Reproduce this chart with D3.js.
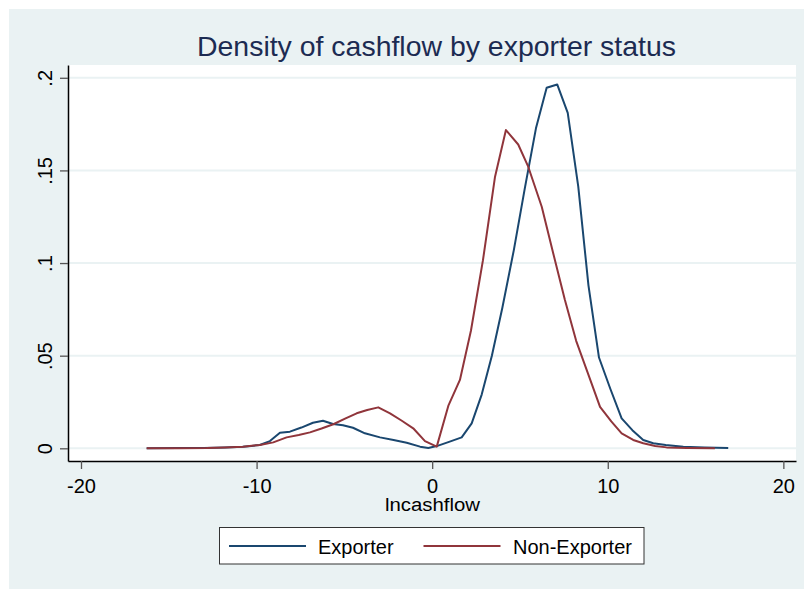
<!DOCTYPE html>
<html>
<head>
<meta charset="utf-8">
<script src="https://cdn.jsdelivr.net/npm/d3@7"></script>
<style>
  body { margin: 0; background: #fff; }
  svg { display: block; font-family: "Liberation Sans", Arial, sans-serif; }
</style>
</head>
<body>
<svg id="chart" width="804" height="589"></svg>
<script>
const exporterX = [-16.26, -14.5, -13.0, -11.8, -10.8, -10.3, -9.82, -9.24, -8.67, -8.10, -7.45, -6.79, -6.22, -5.65, -5.08, -4.51, -3.83, -2.97, -2.2, -1.45, -0.69, -0.22, 0.26, 0.96, 1.68, 2.25, 2.82, 3.4, 4.0, 4.65, 5.27, 5.91, 6.52, 7.12, 7.72, 8.32, 8.9, 9.5, 10.15, 10.79, 11.4, 12.02, 12.59, 13.3, 14.3, 15.5, 16.86]
const exporterY = [0, 0.0001, 0.0002, 0.0005, 0.0009, 0.0013, 0.0018, 0.0039, 0.0084, 0.0090, 0.0112, 0.0138, 0.0149, 0.0131, 0.0124, 0.0111, 0.0081, 0.0059, 0.0045, 0.0030, 0.0009, 0.0002, 0.0012, 0.0035, 0.0059, 0.0135, 0.029, 0.050, 0.076, 0.107, 0.140, 0.1727, 0.1946, 0.1964, 0.1811, 0.1412, 0.088, 0.049, 0.032, 0.0162, 0.0098, 0.0045, 0.0027, 0.0018, 0.0009, 0.0005, 0.0001]

const nonExporterX = [-16.26, -14.5, -12.84, -11.8, -10.76, -9.81, -9.05, -8.29, -7.6, -6.96, -6.3, -5.63, -4.96, -4.30, -3.7, -3.07, -2.40, -1.75, -1.08, -0.41, 0.26, 0.93, 1.58, 2.21, 2.89, 3.58, 4.20, 4.90, 5.47, 6.24, 6.9, 7.56, 8.2, 8.85, 9.56, 10.2, 10.79, 11.45, 12.02, 12.7, 13.35, 14.5, 16.1]
const nonExporterY = [0, 0, 0.0001, 0.0004, 0.0009, 0.0018, 0.0032, 0.0059, 0.0072, 0.0086, 0.0107, 0.0130, 0.0160, 0.0189, 0.0207, 0.0221, 0.0189, 0.0150, 0.0108, 0.0039, 0.0009, 0.0232, 0.0369, 0.0636, 0.1014, 0.1466, 0.1718, 0.1640, 0.1520, 0.1304, 0.105, 0.080, 0.058, 0.041, 0.0224, 0.0145, 0.0081, 0.0045, 0.0027, 0.0013, 0.0005, 0.0002, 0]

const xTicks = [-20, -10, 0, 10, 20]
const xTickLabels = ["-20", "-10", "0", "10", "20"]
const yTicks = [0, 0.05, 0.1, 0.15, 0.2]
const yTickLabels = ["0", ".05", ".1", ".15", ".2"]

const seriesNames = ["Exporter", "Non-Exporter"]
const seriesColors = ["#1a476f", "#90353b"]

const W = 804, H = 589
const plot = {left: 68, right: 796, top: 65, bottom: 461}
const bg = "#eaf2f3"

const svg = d3.select("#chart")

svg.append("rect")
  .attr("x", 9).attr("y", 9)
  .attr("width", W - 9).attr("height", H - 9)
  .attr("fill", bg)

svg.append("rect")
  .attr("x", plot.left).attr("y", plot.top)
  .attr("width", plot.right - plot.left).attr("height", plot.bottom - plot.top)
  .attr("fill", "#fff")

const x = d3.scaleLinear().domain([-20.74, 20.72]).range([plot.left, plot.right])
const y = d3.scaleLinear().domain([-0.00685, 0.2069]).range([plot.bottom, plot.top])

// gridlines
svg.append("g")
  .selectAll("line")
  .data(yTicks)
  .enter().append("line")
  .attr("x1", plot.left).attr("x2", plot.right)
  .attr("y1", d => y(d)).attr("y2", d => y(d))
  .attr("stroke", bg)
  .attr("stroke-width", 2)

// title
svg.append("text")
  .attr("x", 436.5)
  .attr("y", 56)
  .attr("text-anchor", "middle")
  .attr("font-size", "28px")
  .attr("fill", "#1c2b52")
  .attr("textLength", 479)
  .attr("lengthAdjust", "spacingAndGlyphs")
  .text("Density of cashflow by exporter status")

// axes
const yAxis = d3.axisLeft(y)
  .tickValues(yTicks)
  .tickFormat((d, i) => yTickLabels[i])
  .tickSize(8).tickSizeOuter(0)
const gy = svg.append("g")
  .attr("transform", `translate(${plot.left},0)`)
  .call(yAxis)
gy.select(".domain").attr("stroke", "#000").attr("stroke-width", 1.5)
gy.selectAll(".tick line").attr("stroke", "#555").attr("stroke-width", 1.3)
gy.selectAll(".tick text")
  .attr("transform", "rotate(-90)")
  .attr("x", 0)
  .attr("y", -16)
  .attr("dy", 0)
  .attr("text-anchor", "middle")
  .attr("font-size", "20px")
  .attr("font-family", "Liberation Sans, Arial, sans-serif")
  .attr("fill", "#000")

const xAxis = d3.axisBottom(x)
  .tickValues(xTicks)
  .tickFormat((d, i) => xTickLabels[i])
  .tickSize(8).tickSizeOuter(0)
const gx = svg.append("g")
  .attr("transform", `translate(0,${plot.bottom})`)
  .call(xAxis)
gx.select(".domain").attr("stroke", "#000").attr("stroke-width", 1.5)
gx.selectAll(".tick line").attr("stroke", "#555").attr("stroke-width", 1.3)
gx.selectAll(".tick text")
  .attr("y", 32)
  .attr("dy", 0)
  .attr("font-size", "20px")
  .attr("font-family", "Liberation Sans, Arial, sans-serif")
  .attr("fill", "#000")

svg.append("text")
  .attr("x", 432.5)
  .attr("y", 510.5)
  .attr("text-anchor", "middle")
  .attr("font-size", "18px")
  .attr("textLength", 95)
  .attr("lengthAdjust", "spacingAndGlyphs")
  .text("lncashflow")

// density lines
const line = d3.line()
  .x(d => x(d[0]))
  .y(d => y(d[1]))

const series = [
  d3.zip(exporterX, exporterY),
  d3.zip(nonExporterX, nonExporterY)
]

svg.append("g")
  .selectAll("path")
  .data(series)
  .enter().append("path")
  .attr("d", line)
  .attr("fill", "none")
  .attr("stroke", (d, i) => seriesColors[i])
  .attr("stroke-width", 2)
  .attr("stroke-linejoin", "round")

// legend
const legend = svg.append("g")
legend.append("rect")
  .attr("x", 219.5).attr("y", 527.5)
  .attr("width", 424.5).attr("height", 36.5)
  .attr("fill", "#fff")
  .attr("stroke", "#333")
  .attr("stroke-width", 1)

const legendLineX = [229, 423.5]
const legendTextX = [318, 513]
seriesNames.forEach((name, i) => {
  legend.append("line")
    .attr("x1", legendLineX[i]).attr("x2", legendLineX[i] + 77)
    .attr("y1", 546).attr("y2", 546)
    .attr("stroke", seriesColors[i])
    .attr("stroke-width", 2)
  legend.append("text")
    .attr("x", legendTextX[i])
    .attr("y", 554)
    .attr("font-size", "20px")
    .attr("fill", "#000")
    .text(name)
})
</script>
</body>
</html>
